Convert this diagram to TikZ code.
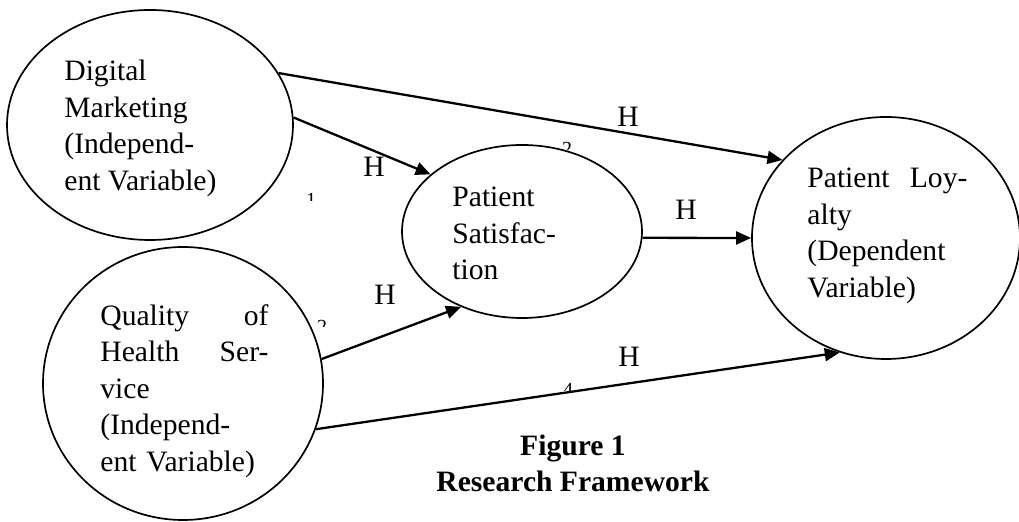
\documentclass[tikz,border=0pt]{standalone}
\usepackage{fontspec}
\setmainfont{Liberation Serif}
\usetikzlibrary{shapes.geometric,arrows.meta}
\begin{document}
\begin{tikzpicture}[x=0.5pt,y=-0.5pt,
  var/.style={ellipse,draw,line width=0.85pt,inner sep=0pt},
  lbl/.style={font=\fontsize{14.8}{18.25}\selectfont,inner sep=0pt,anchor=north west,align=left},
  hyp/.style={font=\fontsize{14.8}{16}\selectfont,inner sep=0pt},
  link/.style={line width=1.15pt,-{Triangle[length=7.5pt,width=6.5pt]}},
  subnum/.style={font=\fontsize{10}{10}\selectfont,inner sep=0pt,anchor=north}]
\useasboundingbox (0,0) rectangle (1019,522);
% variables
\node[var,minimum width=143pt,minimum height=115pt] (dm) at (150,125) {};
\node[var,minimum width=140pt,minimum height=136.5pt] (qhs) at (183,383.5) {};
\node[var,minimum width=120pt,minimum height=86.5pt] (ps) at (522,231.5) {};
\node[var,minimum width=134pt,minimum height=121pt] (pl) at (886,238) {};
% texts
\node[lbl] (tdm) at (64,60) {Digital\\Marketing\\(Independ-\\ent Variable)};
\node[lbl,text width=84pt] (tqhs) at (100,304) {Quality\hfill of\\Health\hfill Ser-\\vice\\(Independ-\\ent Variable)};
\node[lbl] (tps) at (452,187) {Patient\\Satisfac-\\tion};
\node[lbl,text width=80pt] (tpl) at (807,168) {Patient\hfill Loy-\\alty\\(Dependent\\Variable)};
% connectors
\draw[link] (dm.22.5) -- (pl.143);
\draw[link] (dm.3) -- (ps.148);
\draw[link] (qhs.10.4) -- (ps.231.6);
\draw[link] (qhs.-19.2) -- (pl.248.5);
\draw[link] (ps.-3) -- (pl.180);
% hypothesis labels
\node[hyp] (h1) at (374,167) {H};
\node[hyp] (h2) at (628,117) {H};
\node[hyp] (h3) at (385,295) {H};
\node[hyp] (h4) at (629,357) {H};
\node[hyp] (h5) at (686,210) {H};
% clipped subscripts
\begin{scope}
\clip (300,188) rectangle (322,200.5);
\node[subnum] (s1) at (311,193) {1};
\end{scope}
\begin{scope}
\clip (555,138) rectangle (580,150);
\node[subnum] (s2) at (567,142) {2};
\end{scope}
\begin{scope}
\clip (310,316) rectangle (335,327);
\node[subnum] (s3) at (322,320) {2};
\end{scope}
\begin{scope}
\clip (558,379) rectangle (580,391);
\node[subnum] (s4) at (568,383) {4};
\end{scope}
% caption
\node[font=\bfseries\fontsize{14.8}{18}\selectfont,align=center,anchor=north,inner sep=0pt] (cap) at (573,435) {Figure 1\\Research Framework};
\end{tikzpicture}
\end{document}
